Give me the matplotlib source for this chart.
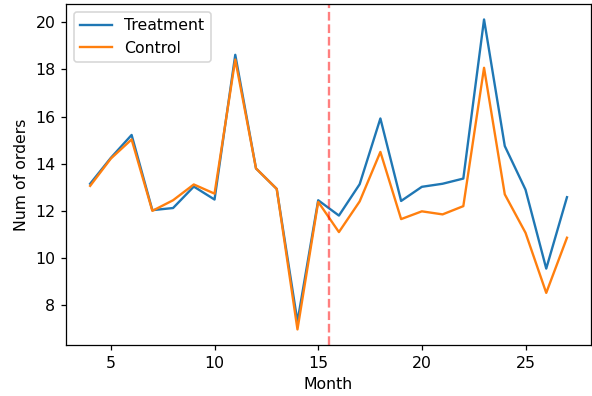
import matplotlib

matplotlib.use("Agg")
import matplotlib.pyplot as plt

months = list(range(4, 28))
treatment = [13.15, 14.25, 15.22, 12.03, 12.12, 13.03, 12.48, 18.62, 13.8, 12.93,
             7.3, 12.45, 11.8, 13.13, 15.92, 12.42, 13.02, 13.15, 13.37, 20.12,
             14.75, 12.9, 9.55, 12.58]
control = [13.06, 14.22, 15.03, 12.0, 12.45, 13.12, 12.73, 18.42, 13.8, 12.93,
           6.97, 12.38, 11.1, 12.4, 14.5, 11.65, 11.98, 11.85, 12.2, 18.07,
           12.7, 11.07, 8.52, 10.86]
cutoff = 15.5

DPI = 113
fig, ax = plt.subplots(figsize=(592 / DPI, 396 / DPI), dpi=DPI)
ax.plot(months, treatment, label="Treatment")
ax.plot(months, control, label="Control")
ax.axvline(cutoff, color="red", alpha=0.5, linestyle="--")
ax.set_xlabel("Month")
ax.set_ylabel("Num of orders")
ax.legend(loc="upper left")
fig.subplots_adjust(left=0.112, right=0.998, bottom=0.129, top=0.99)
fig.savefig("out.png", dpi=DPI)
